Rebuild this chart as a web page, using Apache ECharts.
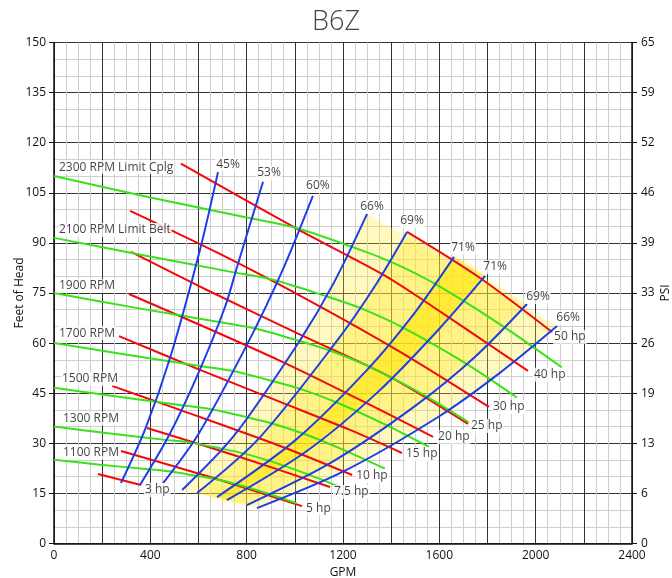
<!DOCTYPE html>
<html>
<head>
<meta charset="utf-8">
<script src="https://cdn.jsdelivr.net/npm/echarts@6/dist/echarts.min.js"></script>
<style>
html,body{margin:0;padding:0;background:#fff}
#chart{width:672px;height:578px}
</style>
</head>
<body>
<div id="chart"></div>
<script>
// Pump performance map for the B6Z: head (ft) against flow (GPM).

// Speed curves, [GPM, feet of head]
const rpm2300 = [[0,110],[400,103.6],[800,97.6],[1000,94.6],[1230,89],[1400,84.3],[1600,77],[1865,65],[2109,52.7]];
const rpm2100 = [[0,91.5],[365,86.4],[730,81.4],[913,78.9],[1123,74.2],[1278,70.3],[1461,64.2],[1703,54.2],[1922,43.7]];
const rpm1900 = [[0,75],[330,70.7],[661,66.6],[826,64.5],[1016,60.7],[1156,57.5],[1322,52.5],[1540,44.3],[1722,36.3]];
const rpm1700 = [[0,60],[296,56.6],[591,53.3],[739,51.7],[909,48.6],[1035,46],[1182,42],[1378,35.5],[1557,28.9]];
const rpm1500 = [[0,46.6],[261,44],[522,41.5],[652,40.2],[802,37.8],[913,35.8],[1043,32.7],[1216,27.6],[1374,22.4]];
const rpm1300 = [[0,35],[226,33],[452,31.1],[565,30.2],[695,28.4],[791,26.9],[904,24.5],[1054,20.7],[1192,16.8]];
const rpm1100 = [[0,25.1],[191,23.6],[382,22.3],[478,21.6],[588,20.3],[669,19.3],[765,17.6],[891,14.9],[1009,12]];
const rpmNames = ['2300 RPM Limit Cplg','2100 RPM Limit Belt','1900 RPM','1700 RPM','1500 RPM','1300 RPM','1100 RPM'];

// Constant horsepower lines, left end to right end
const hp3   = [[183,20.8],[361,17.5]];
const hp5   = [[278,27.7],[648,19.9],[1030,11.2]];
const hp7_5 = [[386,34.6],[772,25.9],[1146,16.9]];
const hp10  = [[241,47.2],[523,40.0],[939,29.2],[1238,20.5]];
const hp15  = [[270,62.1],[606,52.0],[939,42.4],[1229,34.0],[1445,27.1]];
const hp20  = [[311,74.7],[939,54.7],[1395,38.5],[1574,31.9]];
const hp25  = [[320,87.3],[635,75.9],[1009,63.0],[1395,49.9],[1719,35.8]];
const hp30  = [[316,99.6],[689,86.7],[1063,72.6],[1437,57.4],[1806,40.9]];
const hp40  = [[527,113.7],[1009,94.2],[1354,81.0],[1532,72.9],[1968,51.7]];
const hp50  = [[1466,93.3],[1769,79.5],[2068,63.3]];
const hpNames = ['3 hp','5 hp','7.5 hp','10 hp','15 hp','20 hp','25 hp','30 hp','40 hp','50 hp'];

// Efficiency contours, bottom end to top end
const eff45  = [[278,18.1],[380,34.5],[482,55.6],[606,87.9],[681,111.2]];
const eff53  = [[357,17.5],[480,32.7],[600,51.1],[710,70.8],[760,82.8],[868,108.3]];
const eff60  = [[453,18.1],[600,32.8],[811,60.9],[950,82],[1075,104.1]];
const eff66a = [[532,16],[750,32.5],[1022,60.9],[1160,77.8],[1300,98.7]];
const eff69a = [[594,15.1],[850,31.4],[1177,60.9],[1330,76.8],[1466,93.3]];
const eff71a = [[677,13.9],[1000,30.8],[1300,52],[1500,69.3],[1661,85.8]];
const eff71b = [[718,13],[1050,27.7],[1350,45.7],[1600,64.3],[1790,80.1]];
const eff69b = [[801,11.5],[1150,24.2],[1500,41.2],[1750,56],[1964,71.7]];
const eff66b = [[843,10.6],[1200,21.5],[1600,38.1],[1850,51],[2089,65.1]];
const effNames = ['45%','53%','60%','66%','69%','71%','71%','69%','66%'];

// Right-hand pressure scale printed against the head gridlines
const psiLabels = ['0','6','13','19','26','33','39','46','52','59','65'];

const FONT = 'Open Sans';
const GREEN = '#3ae21a', RED = '#f20a0a', BLUE = '#1f3fe6';

const rpmCurves = [rpm2300, rpm2100, rpm1900, rpm1700, rpm1500, rpm1300, rpm1100];
const hpCurves = [hp3, hp5, hp7_5, hp10, hp15, hp20, hp25, hp30, hp40, hp50];
const effCurves = [eff45, eff53, eff60, eff66a, eff69a, eff71a, eff71b, eff69b, eff66b];

function line(data, color, z) {
  return {
    type: 'line', data, symbol: 'none', smooth: 0.3,
    lineStyle: { color, width: 2 }, z, silent: true, animation: false
  };
}

// Band between two efficiency contours of equal value
function zone(left, right, fill) {
  const pts = left.concat(right.slice().reverse());
  return {
    type: 'custom', coordinateSystem: 'cartesian2d', z: 1, silent: true, animation: false,
    data: [[0, 0]], encode: { x: 0, y: 1 },
    renderItem: (params, api) => ({
      type: 'polygon',
      shape: { points: pts.map(p => api.coord(p)) },
      style: { fill, shadowBlur: 8, shadowColor: fill }
    })
  };
}

const labelBase = {
  show: true, formatter: '{b}', color: '#111', fontFamily: FONT, fontSize: 12,
  backgroundColor: '#fff', padding: [0, 1], lineHeight: 14
};

const rpmOffsets = [[4,-9],[4,-8],[4,-7],[4,-10],[7,-9],[8,-8],[8,-7]];
const hpOffsets = [[3,5],[3,2],[3,5],[3,1],[3,1],[4,0],[2,2],[3,0],[5,4],[1,5]];
const effOffsets = [[10,-8],[6,-9],[5,-10],[5,-7],[5,-11],[9,-9],[10,-9],[11,-7],[11,-8]];

const series = [
  zone(eff66a, eff66b, 'rgba(255,236,40,0.25)'),
  zone(eff69a, eff69b, 'rgba(255,236,40,0.3)'),
  zone(eff71a, eff71b, 'rgba(255,232,20,0.55)'),
  ...hpCurves.map(c => line(c, RED, 3)),
  ...rpmCurves.map(c => line(c, GREEN, 4)),
  ...effCurves.map(c => line(c, BLUE, 5)),
  {
    type: 'scatter', symbolSize: 0, z: 10, silent: true, animation: false,
    label: Object.assign({}, labelBase, { position: 'right', distance: 0 }),
    data: rpmCurves.map((c, i) => ({ name: rpmNames[i], value: c[0], label: { offset: rpmOffsets[i] } }))
  },
  {
    type: 'scatter', symbolSize: 0, z: 10, silent: true, animation: false,
    label: Object.assign({}, labelBase, { position: 'right', distance: 0 }),
    data: hpCurves.map((c, i) => ({ name: hpNames[i], value: c[c.length - 1], label: { offset: hpOffsets[i] } }))
  },
  {
    type: 'scatter', symbolSize: 0, z: 10, silent: true, animation: false,
    label: Object.assign({}, labelBase, { position: 'inside' }),
    data: effCurves.map((c, i) => ({ name: effNames[i], value: c[c.length - 1], label: { offset: effOffsets[i] } }))
  }
];

const axisText = { color: '#111', fontFamily: FONT, fontSize: 12 };
const majorLine = { show: true, lineStyle: { color: '#333', width: 1 } };
const minorLine = { show: true, lineStyle: { color: '#cfcfcf', width: 1 } };

const chart = echarts.init(document.getElementById('chart'), null, { renderer: 'canvas' });
chart.setOption({
  animation: false,
  backgroundColor: '#fff',
  title: {
    text: 'B6Z', left: 'center', top: 4,
    textStyle: { fontFamily: FONT, fontWeight: 300, fontSize: 27, color: '#444' }
  },
  grid: { left: 54, right: 40, top: 42.5, bottom: 34.5, containLabel: false, outerBoundsMode: 'none' },
  xAxis: {
    type: 'value', min: 0, max: 2400, interval: 200,
    name: 'GPM', nameLocation: 'middle', nameGap: 23, nameMoveOverlap: false,
    nameTextStyle: axisText,
    axisLine: { show: true, onZero: false, lineStyle: { color: '#111', width: 1.5 } },
    axisTick: { show: false },
    axisLabel: Object.assign({ margin: 6, formatter: v => (v % 400 === 0 ? String(v) : '') }, axisText),
    splitLine: majorLine,
    minorTick: { show: false, splitNumber: 4 },
    minorSplitLine: minorLine
  },
  yAxis: [
    {
      type: 'value', min: 0, max: 150, interval: 15, position: 'left',
      name: 'Feet of Head', nameLocation: 'middle', nameGap: 28, nameMoveOverlap: false,
      nameTextStyle: axisText,
      axisLine: { show: true, onZero: false, lineStyle: { color: '#111', width: 1.5 } },
      axisTick: { show: true, length: 5, lineStyle: { color: '#111' } },
      axisLabel: Object.assign({ margin: 8 }, axisText),
      splitLine: majorLine,
      minorTick: { show: false, splitNumber: 3 },
      minorSplitLine: minorLine
    },
    {
      type: 'value', min: 0, max: 150, interval: 15, position: 'right',
      name: 'PSI', nameLocation: 'middle', nameGap: 28, nameRotate: 90, nameMoveOverlap: false,
      nameTextStyle: axisText,
      axisLine: { show: true, onZero: false, lineStyle: { color: '#111', width: 1.5 } },
      axisTick: { show: true, length: 5, lineStyle: { color: '#111' } },
      axisLabel: Object.assign({ margin: 9, formatter: v => psiLabels[Math.round(v / 15)] }, axisText),
      splitLine: { show: false }
    }
  ],
  series
});
</script>
</body>
</html>
